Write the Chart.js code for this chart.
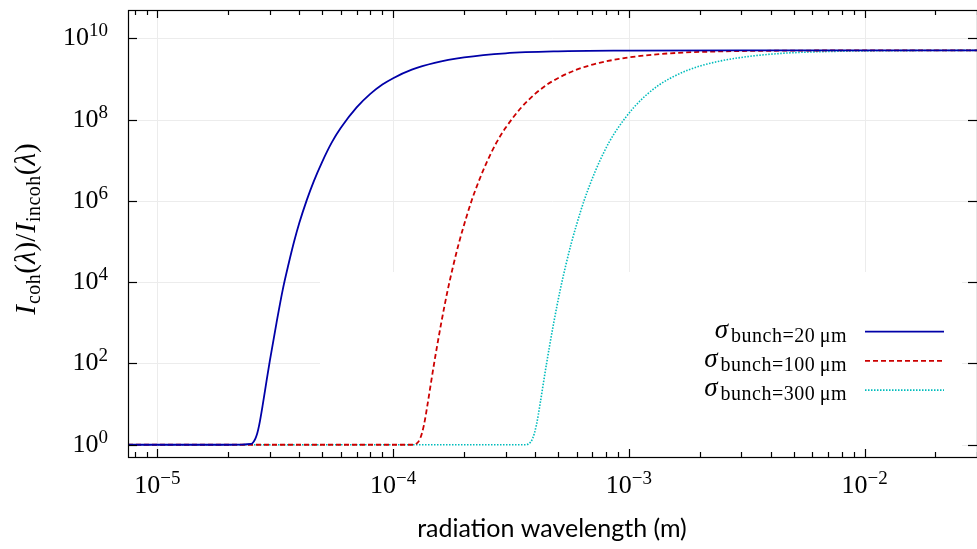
<!DOCTYPE html>
<html>
<head>
<meta charset="utf-8">
<script src="https://cdn.jsdelivr.net/npm/chart.js@4.4.1/dist/chart.umd.min.js"></script>
<style>
  html, body { margin: 0; padding: 0; background: #fff; }
  #wrap { width: 977px; height: 549px; }
</style>
</head>
<body>
<div id="wrap"><canvas id="chart" width="977" height="549"></canvas></div>
<script>
// wavelength (m) and I_coh / I_incoh, one pair of arrays per bunch length
const lambda20 = [7.5e-6, 2.0e-5, 2.5e-5, 2.55e-5, 2.6e-5, 2.65e-5, 2.7e-5, 2.8e-5, 2.9e-5, 3.0e-5, 3.2e-5, 3.4e-5, 3.6e-5, 3.8e-5, 4.0e-5, 4.3e-5, 4.6e-5, 5.0e-5, 5.5e-5, 6.0e-5, 7.0e-5, 8.0e-5, 9.0e-5, 1.0e-4, 1.2e-4, 1.5e-4, 2.0e-4, 3.0e-4, 5.0e-4, 1.0e-3, 3.0e-3, 3.0e-2];
const ratio20  = [1, 1, 1.05, 1.15, 1.4, 1.9, 3.0, 10, 36, 120, 1000, 6500, 2.8e4, 1.0e5, 2.9e5, 1.05e6, 3.0e6, 9.2e6, 2.8e7, 6.3e7, 2.0e8, 4.3e8, 7.3e8, 1.05e9, 1.7e9, 2.5e9, 3.4e9, 4.3e9, 4.8e9, 5.0e9, 5.1e9, 5.1e9];

const lambda100 = [7.5e-6, 1.2e-4, 1.25e-4, 1.3e-4, 1.35e-4, 1.4e-4, 1.45e-4, 1.5e-4, 1.6e-4, 1.7e-4, 1.8e-4, 1.9e-4, 2.0e-4, 2.15e-4, 2.3e-4, 2.5e-4, 2.75e-4, 3.0e-4, 3.5e-4, 4.0e-4, 4.5e-4, 5.0e-4, 6.0e-4, 7.5e-4, 1.0e-3, 1.5e-3, 2.5e-3, 5.0e-3, 1.0e-2, 3.0e-2];
const ratio100  = [1, 1, 1.05, 1.4, 3.0, 10, 36, 120, 1000, 6000, 2.6e4, 9.1e4, 2.6e5, 1.0e6, 2.9e6, 9.2e6, 2.8e7, 6.3e7, 2.0e8, 4.3e8, 7.3e8, 1.05e9, 1.7e9, 2.5e9, 3.4e9, 4.3e9, 4.8e9, 5.0e9, 5.08e9, 5.1e9];

const lambda300 = [7.5e-6, 3.6e-4, 3.75e-4, 3.9e-4, 4.05e-4, 4.2e-4, 4.35e-4, 4.5e-4, 4.8e-4, 5.1e-4, 5.4e-4, 5.7e-4, 6.0e-4, 6.45e-4, 6.9e-4, 7.5e-4, 8.25e-4, 9.0e-4, 1.05e-3, 1.2e-3, 1.35e-3, 1.5e-3, 1.8e-3, 2.25e-3, 3.0e-3, 4.5e-3, 7.5e-3, 1.5e-2, 3.0e-2];
const ratio300  = [1, 1, 1.05, 1.4, 3.0, 10, 36, 120, 1000, 6000, 2.6e4, 9.1e4, 2.6e5, 1.0e6, 2.9e6, 9.2e6, 2.8e7, 6.3e7, 2.0e8, 4.3e8, 7.3e8, 1.05e9, 1.7e9, 2.5e9, 3.4e9, 4.3e9, 4.8e9, 5.0e9, 5.08e9];

const legendLabels = ['bunch=20\u2009\u03bcm', 'bunch=100\u2009\u03bcm', 'bunch=300\u2009\u03bcm'];
const xTickExps = [-5, -4, -3, -2];
const yTickExps = [0, 2, 4, 6, 8, 10];
const xTitle = 'radiation wavelength (m)';

const SERIF = '"Liberation Serif", "DejaVu Serif", serif';
const SANS = 'Lato, "Open Sans", sans-serif';

const pts = (xs, ys) => xs.map((v, i) => ({ x: v, y: ys[i] }));

function line(ctx, x1, y1, x2, y2) {
  ctx.beginPath(); ctx.moveTo(x1, y1); ctx.lineTo(x2, y2); ctx.stroke();
}

function drawPow(ctx, e, x, baseline, align) {
  const exp = e < 0 ? '\u2212' + (-e) : String(e);
  ctx.font = '26px ' + SERIF;
  const w1 = ctx.measureText('10').width;
  ctx.font = '19px ' + SERIF;
  const w2 = ctx.measureText(exp).width;
  const left = align === 'center' ? x - (w1 + w2) / 2 : x - (w1 + w2);
  ctx.textAlign = 'left';
  ctx.textBaseline = 'alphabetic';
  ctx.font = '26px ' + SERIF;
  ctx.fillText('10', left, baseline);
  ctx.font = '19px ' + SERIF;
  ctx.fillText(exp, left + w1, baseline - 9);
}

// draws a run of pieces (text, font, vertical shift, extra gap) starting at x
function drawRun(ctx, parts, x, baseline) {
  parts.forEach(p => {
    ctx.font = p.f;
    ctx.letterSpacing = p.ls || '0px';
    ctx.fillText(p.t, x, baseline + (p.dy || 0));
    x += ctx.measureText(p.t).width + (p.gap || 0);
  });
  ctx.letterSpacing = '0px';
}
function runWidth(ctx, parts) {
  const w = parts.reduce((s, p) => {
    ctx.font = p.f;
    ctx.letterSpacing = p.ls || '0px';
    return s + ctx.measureText(p.t).width + (p.gap || 0);
  }, 0);
  ctx.letterSpacing = '0px';
  return w;
}

const decor = {
  id: 'decor',
  beforeDatasetsDraw(chart) {
    const { ctx, chartArea: a, scales: { x, y } } = chart;
    ctx.save();
    ctx.strokeStyle = '#ececec';
    ctx.lineWidth = 1;
    xTickExps.forEach(e => {
      const px = Math.round(x.getPixelForValue(Math.pow(10, e))) + 0.5;
      line(ctx, px, a.top, px, a.bottom);
    });
    yTickExps.forEach(e => {
      const py = Math.round(y.getPixelForValue(Math.pow(10, e))) + 0.5;
      line(ctx, a.left, py, a.right, py);
    });
    // legend backdrop
    ctx.fillStyle = '#fff';
    ctx.fillRect(320, 272, 642, a.bottom - 272);
    ctx.restore();
  },
  afterDatasetsDraw(chart) {
    const { ctx, chartArea: a, scales: { x, y } } = chart;
    ctx.save();
    ctx.strokeStyle = '#000';
    ctx.fillStyle = '#000';
    ctx.lineWidth = 1.2;
    ctx.strokeRect(a.left + 0.5, a.top + 0.5, a.right - a.left, a.bottom - a.top);

    // x ticks, major and minor, bottom and top
    for (let e = -6; e <= -1; e++) {
      for (let m = 1; m <= 9; m++) {
        const v = m * Math.pow(10, e);
        if (v < x.min || v > x.max) continue;
        const px = Math.round(x.getPixelForValue(v)) + 0.5;
        const len = m === 1 ? 8 : 5;
        line(ctx, px, a.bottom, px, a.bottom - len);
        line(ctx, px, a.top, px, a.top + len);
      }
    }
    yTickExps.forEach(e => {
      const py = Math.round(y.getPixelForValue(Math.pow(10, e))) + 0.5;
      line(ctx, a.left, py, a.left + 9, py);
      line(ctx, a.right, py, a.right - 9, py);
    });

    // tick labels
    xTickExps.forEach(e => drawPow(ctx, e, x.getPixelForValue(Math.pow(10, e)), a.bottom + 36, 'center'));
    yTickExps.forEach(e => drawPow(ctx, e, a.left - 20, y.getPixelForValue(Math.pow(10, e)) + 7, 'right'));

    // x title
    ctx.font = '25px ' + SANS;
    ctx.textAlign = 'center';
    ctx.fillText(xTitle, 552, 537);
    ctx.textAlign = 'left';

    // y title, rotated
    const big = '29px ' + SERIF, bigI = 'italic 29px ' + SERIF, sub = '20px ' + SERIF;
    const yParts = [
      { t: 'I', f: bigI, gap: 1 }, { t: 'coh', f: sub, dy: 5, ls: '0.5px' }, { t: '(', f: big }, { t: '\u03bb', f: bigI }, { t: ')', f: big },
      { t: '/', f: big, gap: 1 },
      { t: 'I', f: bigI, gap: 1 }, { t: 'incoh', f: sub, dy: 5, ls: '0.5px' }, { t: '(', f: big }, { t: '\u03bb', f: bigI }, { t: ')', f: big }
    ];
    ctx.save();
    ctx.translate(35, 229);
    ctx.rotate(-Math.PI / 2);
    drawRun(ctx, yParts, -runWidth(ctx, yParts) / 2, 0);
    ctx.restore();

    // legend
    chart.data.datasets.forEach((ds, i) => {
      const base = 341.7 + i * 29.2;
      const parts = [
        { t: '\u03c3', f: 'italic 27px ' + SERIF, dy: -3.7, gap: 3 },
        { t: legendLabels[i], f: '20px ' + SERIF, ls: '0.5px' }
      ];
      ctx.fillStyle = '#000';
      drawRun(ctx, parts, 847 - runWidth(ctx, parts), base);
      ctx.strokeStyle = ds.borderColor;
      ctx.lineWidth = ds.borderWidth;
      ctx.setLineDash(ds.borderDash || []);
      line(ctx, 865, base - 10, 944, base - 10);
      ctx.setLineDash([]);
    });
    ctx.restore();
  }
};

new Chart(document.getElementById('chart'), {
  type: 'line',
  data: {
    datasets: [
      { data: pts(lambda20, ratio20), borderColor: '#0000a8', borderWidth: 1.8 },
      { data: pts(lambda100, ratio100), borderColor: '#cc0000', borderWidth: 1.8, borderDash: [5, 3] },
      { data: pts(lambda300, ratio300), borderColor: '#00bcbc', borderWidth: 1.6, borderDash: [1.5, 1.5] }
    ]
  },
  options: {
    responsive: false,
    animation: false,
    layout: { padding: { left: 128, top: 10, right: -2, bottom: 92 } },
    elements: { point: { radius: 0 }, line: { cubicInterpolationMode: 'monotone', fill: false } },
    plugins: { legend: { display: false }, tooltip: { enabled: false } },
    scales: {
      x: { type: 'logarithmic', min: 7.5e-6, max: 3e-2, display: false },
      y: { type: 'logarithmic', min: 0.5, max: 5e10, display: false }
    }
  },
  plugins: [decor]
});
</script>
</body>
</html>
